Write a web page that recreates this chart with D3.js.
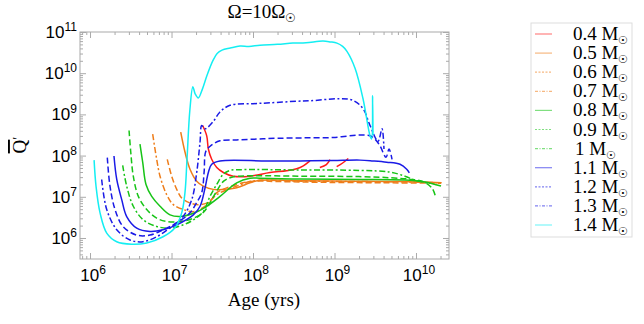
<!DOCTYPE html>
<html>
<head>
<meta charset="utf-8">
<script src="https://cdn.jsdelivr.net/npm/d3@7"></script>
<style>
  body { margin: 0; background: #fff; }
  svg { display: block; }
</style>
</head>
<body>
<svg id="chart" width="644" height="324"></svg>
<script>
// each curve: [log10 age (yrs), log10 Qbar'], null = gap in the track
var masses = ["0.4", "0.5", "0.6", "0.7", "0.8", "0.9", "1", "1.1", "1.2", "1.3", "1.4"];

var m04 = [[7.382,8.73],[7.432,8.48],[7.452,8.16],[7.493,7.91],[7.555,7.71],[7.636,7.59],[7.758,7.5],[7.963,7.5],[8.209,7.59],[8.413,7.63],[8.536,7.68],[8.617,7.75],[8.699,7.87],null,[8.82,7.71],[8.9,7.78],[8.945,7.9],null,[9.027,7.73],[9.1,7.82],[9.169,7.93]];
var m05 = [[7.113,8.57],[7.166,8.08],[7.227,7.67],[7.309,7.38],[7.39,7.26],[7.513,7.18],[7.636,7.18],[7.8,7.22],[7.963,7.34],[8.086,7.4],[8.577,7.39],[9.19,7.38],[9.804,7.37],[10.315,7.34]];
var m06 = [[6.948,7.91],[7.002,7.5],[7.064,7.18],[7.125,6.97],[7.227,6.85],[7.35,6.81],[7.472,6.89],[7.555,7.1],[7.8,7.3],[8.003,7.38],[8.3,7.37],[8.9,7.35],[9.6,7.34],[10.307,7.33]];
var m07 = [[6.769,8.52],[6.818,7.91],[6.859,7.5],[6.941,7.05],[7.022,6.81],[7.145,6.69],[7.268,6.64],[7.39,6.74],[7.555,7.05],[7.8,7.26],[7.963,7.37],[8.086,7.4],[8.6,7.38],[9.3,7.37],[9.9,7.36],[10.3,7.34]];
var m08 = [[6.613,8.28],[6.647,7.83],[6.687,7.3],[6.757,7.01],[6.859,6.77],[6.982,6.56],[7.104,6.52],[7.268,6.6],[7.432,6.77],[7.595,7.01],[7.8,7.34],[7.963,7.45],[8.086,7.45],[8.577,7.43],[9.313,7.42],[9.926,7.4],[10.11,7.36],[10.307,7.26]];
var m09 = [[6.479,8.61],[6.5,8.08],[6.531,7.5],[6.593,7.01],[6.696,6.69],[6.818,6.48],[6.941,6.4],[7.104,6.4],[7.268,6.48],[7.39,6.62],[7.47,6.85],[7.55,7.12],[7.64,7.38],[7.75,7.48],[8.0,7.51],[8.6,7.5],[9.3,7.49],[9.7,7.46],[9.95,7.42],[10.1,7.36],[10.2,7.2],[10.24,7.0]];
var m10 = [[6.401,7.76],[6.45,7.26],[6.531,6.77],[6.654,6.44],[6.818,6.28],[6.982,6.24],[7.145,6.32],[7.268,6.44],[7.39,6.64],[7.472,7.01],[7.555,7.3],[7.636,7.55],[7.718,7.64],[7.88,7.66],[8.577,7.65],[9.313,7.64],[9.68,7.6],[9.865,7.5],[9.99,7.4],[10.17,7.33]];
var m11 = [[6.294,7.99],[6.328,7.42],[6.389,6.93],[6.45,6.52],[6.573,6.24],[6.736,6.16],[6.896,6.2],[7.064,6.32],[7.268,6.56],[7.35,6.77],[7.41,7.2],[7.452,7.59],[7.493,7.79],[7.595,7.87],[8.168,7.87],[8.577,7.87],[8.982,7.88],[9.313,7.89],[9.472,7.87],[9.64,7.84],[9.804,7.79],[9.886,7.67],[9.918,7.58]];
var m12 = [[6.212,7.95],[6.245,7.26],[6.307,6.69],[6.405,6.28],[6.573,6.07],[6.736,6.07],[6.896,6.2],[7.064,6.37],[7.227,6.61],[7.309,6.86],[7.371,7.1],[7.4,7.6],[7.42,8.1],[7.47,8.22],[7.509,8.28],[7.595,8.36],[7.8,8.38],[8.045,8.4],[8.291,8.42],[8.613,8.43],[8.982,8.44],[9.313,8.5],[9.436,8.48],[9.497,8.4],[9.558,8.24],[9.632,7.96],[9.669,8.16],[9.706,7.91]];
var m13 = [[6.143,7.42],[6.205,6.69],[6.328,6.2],[6.491,5.95],[6.65,5.91],[6.818,6.03],[6.982,6.25],[7.141,6.52],[7.248,6.93],[7.309,7.59],[7.35,8.33],[7.371,8.73],[7.411,8.65],[7.509,8.82],[7.595,9.06],[7.718,9.22],[8.0,9.26],[8.209,9.28],[8.536,9.32],[8.7,9.33],[9.067,9.38],[9.227,9.34],[9.35,9.14],[9.436,8.73],[9.534,8.35],[9.583,8.65],[9.607,8.16]];
var m14 = [[6.05,7.89],[6.074,7.25],[6.123,6.61],[6.205,6.12],[6.328,5.91],[6.512,5.85],[6.696,5.88],[6.896,6.03],[7.043,6.25],[7.125,6.61],[7.165,7.1],[7.19,7.91],[7.225,9.1],[7.262,9.67],[7.29,9.5],[7.329,9.4],[7.38,9.62],[7.436,9.95],[7.509,10.31],[7.56,10.48],[7.62,10.56],[7.72,10.61],[7.84,10.66],[7.95,10.65],[8.086,10.68],[8.3,10.7],[8.49,10.73],[8.65,10.74],[8.859,10.78],[8.95,10.76],[9.03,10.73],[9.1,10.65],[9.153,10.53],[9.252,10.12],[9.35,9.38],[9.436,8.48],[9.455,8.4],[9.468,9.45],[9.472,8.5]];

var curves = [m04, m05, m06, m07, m08, m09, m10, m11, m12, m13, m14];

var xDecades = [6, 7, 8, 9, 10];
var yDecades = [6, 7, 8, 9, 10, 11];

// styles
var colors = ["#ff1a1a", "#ee7d1a", "#ee7d1a", "#ee7d1a", "#17c417", "#17c417", "#17c417", "#1a1ae6", "#1a1ae6", "#1a1ae6", "#14eef2"];
var dashes = [null, null, "6,3", "6,2.5,2,2.5", null, "6,3", "6,2.5,2,2.5", null, "6,3", "6,2.5,2,2.5", null];
var legendDashes = [null, null, "2,1.5", "3,1.5,1,1.5", null, "2,1.5", "3,1.5,1,1.5", null, "2,1.5", "3,1.5,1,1.5", null];

var svg = d3.select("#chart");
var pL = 80, pR = 449, pT = 32, pB = 259;

var x = d3.scaleLog().domain([Math.pow(10, 5.877), Math.pow(10, 10.405)]).range([pL, pR]);
var y = d3.scaleLog().domain([Math.pow(10, 5.49), 1e11]).range([pB, pT]);

var majorX = xDecades.map(function(d) { return Math.pow(10, d); });
var majorY = yDecades.map(function(d) { return Math.pow(10, d); });
var minorX = x.ticks().filter(function(v) { return majorX.indexOf(v) < 0; });
var minorY = y.ticks().filter(function(v) { return majorY.indexOf(v) < 0 && v < 1e11; });

function tickAxis(axis, values, size, tx, ty) {
	var g = svg.append("g")
		.attr("transform", "translate(" + tx + "," + ty + ")")
		.call(axis.tickValues(values).tickSizeInner(-size).tickSizeOuter(0).tickFormat(""));
	g.select(".domain").remove();
	g.selectAll("line").attr("stroke", "#aaa");
}

tickAxis(d3.axisBottom(x), majorX, 6, 0, pB);
tickAxis(d3.axisBottom(x), minorX, 3, 0, pB);
tickAxis(d3.axisTop(x), majorX, 6, 0, pT);
tickAxis(d3.axisTop(x), minorX, 3, 0, pT);
tickAxis(d3.axisLeft(y), majorY, 6, pL, 0);
tickAxis(d3.axisLeft(y), minorY, 3, pL, 0);
tickAxis(d3.axisRight(y), majorY, 6, pR, 0);
tickAxis(d3.axisRight(y), minorY, 3, pR, 0);

svg.append("rect")
	.attr("x", pL).attr("y", pT)
	.attr("width", pR - pL).attr("height", pB - pT)
	.attr("fill", "none").attr("stroke", "#aaa");

// tick labels 10^n
var xl = svg.append("g").selectAll("text").data(xDecades).enter().append("text")
	.attr("x", function(d) { return x(Math.pow(10, d)) + 3; })
	.attr("y", pB + 22)
	.attr("text-anchor", "middle")
	.style("font-family", "Liberation Sans, Arial, sans-serif")
	.style("font-size", "17px");
xl.append("tspan").text("10");
xl.append("tspan").attr("dy", -7).style("font-size", "12px").text(function(d) { return d; });

var yl = svg.append("g").selectAll("text").data(yDecades).enter().append("text")
	.attr("x", pL - 3)
	.attr("y", function(d) { return y(Math.pow(10, d)) + 6; })
	.attr("text-anchor", "end")
	.style("font-family", "Liberation Sans, Arial, sans-serif")
	.style("font-size", "17px");
yl.append("tspan").text("10");
yl.append("tspan").attr("dy", -7).style("font-size", "12px").text(function(d) { return d; });

// curves
var line = d3.line()
	.defined(function(d) { return d !== null; })
	.x(function(d) { return x(Math.pow(10, d[0])); })
	.y(function(d) { return y(Math.pow(10, d[1])); })
	.curve(d3.curveCatmullRom.alpha(0.5));

svg.append("defs").append("clipPath").attr("id", "plotclip")
	.append("rect").attr("x", pL).attr("y", pT).attr("width", pR - pL).attr("height", pB - pT);

svg.append("g").attr("clip-path", "url(#plotclip)")
	.selectAll("path").data(curves).enter().append("path")
	.attr("d", line)
	.attr("fill", "none")
	.attr("stroke", function(d, i) { return colors[i]; })
	.attr("stroke-width", 1.5)
	.attr("stroke-dasharray", function(d, i) { return dashes[i]; });

// titles
var serif = "Liberation Serif, Times New Roman, serif";
var title = svg.append("text")
	.attr("x", 262).attr("y", 18)
	.attr("text-anchor", "middle")
	.style("font-family", serif).style("font-size", "19px");
title.append("tspan").text("Ω=10Ω");
title.append("tspan").attr("dy", 4).style("font-size", "12px").text("☉");

svg.append("text")
	.attr("x", 264).attr("y", 306)
	.attr("text-anchor", "middle")
	.style("font-family", serif).style("font-size", "19px")
	.text("Age (yrs)");

var ylab = svg.append("text")
	.attr("transform", "translate(26,145) rotate(-90)")
	.attr("text-anchor", "middle")
	.style("font-family", serif).style("font-size", "19px");
ylab.append("tspan").style("text-decoration", "overline").text("Q");
ylab.append("tspan").attr("dy", -3).style("font-size", "14px").text("′");

// legend
var lg = svg.append("g");
lg.append("rect")
	.attr("x", 531).attr("y", 23).attr("width", 101).attr("height", 214)
	.attr("fill", "#fff").attr("stroke", "#ddd");

var item = lg.selectAll("g.item").data(masses).enter().append("g")
	.attr("class", "item")
	.attr("transform", function(d, i) { return "translate(0," + (34 + i * 19.1) + ")"; });

item.append("line")
	.attr("x1", 535).attr("x2", 552)
	.attr("stroke", function(d, i) { return colors[i]; })
	.attr("stroke-opacity", 0.55)
	.attr("stroke-width", 1.2)
	.attr("stroke-dasharray", function(d, i) { return legendDashes[i]; });

var lt = item.append("text")
	.attr("x", function(d) { return d.length === 1 ? 575 : 573; })
	.attr("y", 6)
	.style("font-family", serif).style("font-size", "19px");
lt.append("tspan").text(function(d) { return d + " M"; });
lt.append("tspan").attr("dy", 4).style("font-size", "11px").text("☉");
</script>
</body>
</html>
